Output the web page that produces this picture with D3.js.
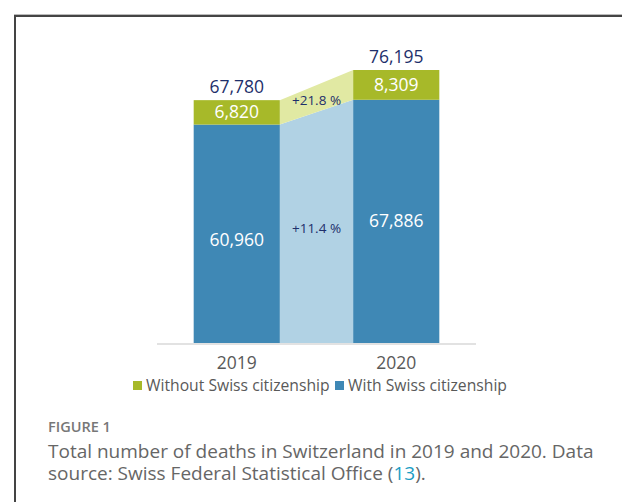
<!DOCTYPE html>
<html>
<head>
<meta charset="utf-8">
<script src="https://cdn.jsdelivr.net/npm/d3@7"></script>
<style>
  body { margin: 0; background: #fff; }
  svg { display: block; }
</style>
</head>
<body>
<svg id="chart" width="622" height="502"></svg>
<script>
const years = ["2019", "2020"];
const withSwiss = [60960, 67886];
const withoutSwiss = [6820, 8309];
const totals = [67780, 76195];
const changeLabels = ["+11.4 %", "+21.8 %"];
const seriesNames = ["Without Swiss citizenship", "With Swiss citizenship"];

const blue = "#3f88b5", green = "#a7b929";
const lightBlue = "#b1d2e4", lightGreen = "#e1e9a3";
const navy = "#1e2f6b";
const fmt = d3.format(",");

const svg = d3.select("#chart");

// figure frame
svg.append("path")
  .attr("d", "M15,505 V16 H625")
  .attr("fill", "none")
  .attr("stroke", "#444")
  .attr("stroke-width", 2);
svg.append("line")
  .attr("x1", 14).attr("x2", 622).attr("y1", 14.5).attr("y2", 14.5)
  .attr("stroke", "#bbb");

const x = d3.scaleBand()
  .domain(years)
  .range([157, 476])
  .paddingInner(0.46)
  .paddingOuter(0.23);

const y = d3.scaleLinear()
  .domain([0, 76195])
  .range([343, 70]);

const bw = x.bandwidth();
const x0 = x(years[0]) + bw, x1 = x(years[1]);

// connector areas
svg.append("path")
  .attr("d", `M${x0},${y(0)} L${x0},${y(withSwiss[0])} L${x1},${y(withSwiss[1])} L${x1},${y(0)} Z`)
  .attr("fill", lightBlue);
svg.append("path")
  .attr("d", `M${x0},${y(withSwiss[0])} L${x0},${y(totals[0])} L${x1},${y(totals[1])} L${x1},${y(withSwiss[1])} Z`)
  .attr("fill", lightGreen);

// axis line
svg.append("line")
  .attr("x1", 157).attr("x2", 476)
  .attr("y1", 344).attr("y2", 344)
  .attr("stroke", "#d9d9d9").attr("stroke-width", 1.5);

// bars
svg.selectAll(".blue").data(years).enter().append("rect")
  .attr("x", d => x(d)).attr("width", bw)
  .attr("y", (d, i) => y(withSwiss[i]))
  .attr("height", (d, i) => y(0) - y(withSwiss[i]))
  .attr("fill", blue);
svg.selectAll(".green").data(years).enter().append("rect")
  .attr("x", d => x(d)).attr("width", bw)
  .attr("y", (d, i) => y(totals[i]))
  .attr("height", (d, i) => y(withSwiss[i]) - y(totals[i]))
  .attr("fill", green);

const font = "'Open Sans', sans-serif";

// value labels
svg.selectAll(".tot").data(years).enter().append("text")
  .attr("x", d => x(d) + bw / 2)
  .attr("y", (d, i) => y(totals[i]) - 7)
  .attr("text-anchor", "middle")
  .attr("font-family", font).attr("font-size", 17.5)
  .attr("fill", navy)
  .text((d, i) => fmt(totals[i]));
svg.selectAll(".gl").data(years).enter().append("text")
  .attr("x", d => x(d) + bw / 2)
  .attr("y", (d, i) => (y(totals[i]) + y(withSwiss[i])) / 2 + 6)
  .attr("text-anchor", "middle")
  .attr("font-family", font).attr("font-size", 17.5)
  .attr("fill", "#fff")
  .text((d, i) => fmt(withoutSwiss[i]));
svg.selectAll(".bl").data(years).enter().append("text")
  .attr("x", d => x(d) + bw / 2)
  .attr("y", (d, i) => (y(0) + y(withSwiss[i])) / 2 + 6 + (i === 0 ? 6 : 0))
  .attr("text-anchor", "middle")
  .attr("font-family", font).attr("font-size", 17.5)
  .attr("fill", "#fff")
  .text((d, i) => fmt(withSwiss[i]));

// change labels
const cx = (x0 + x1) / 2;
svg.append("text")
  .attr("x", cx).attr("y", 233)
  .attr("text-anchor", "middle")
  .attr("font-family", font).attr("font-size", 13.5)
  .attr("fill", navy).text(changeLabels[0]);
svg.append("text")
  .attr("x", cx).attr("y", 105)
  .attr("text-anchor", "middle")
  .attr("font-family", font).attr("font-size", 13.5)
  .attr("fill", navy).text(changeLabels[1]);

// year labels
svg.selectAll(".yr").data(years).enter().append("text")
  .attr("x", d => x(d) + bw / 2)
  .attr("y", 369)
  .attr("text-anchor", "middle")
  .attr("font-family", font).attr("font-size", 17.5)
  .attr("fill", "#595959")
  .text(d => d);

// legend
const legend = [
  { name: seriesNames[0], color: green, x: 133 },
  { name: seriesNames[1], color: blue, x: 335 }
];
const lg = svg.selectAll(".lg").data(legend).enter().append("g")
  .attr("transform", d => `translate(${d.x},380)`);
lg.append("rect").attr("width", 9).attr("height", 9).attr("y", 1).attr("fill", d => d.color);
lg.append("text")
  .attr("x", 13).attr("y", 10.5)
  .attr("font-family", font).attr("font-size", 15.7)
  .attr("fill", "#595959")
  .text(d => d.name);

// caption
const capFont = "'Open Sans', sans-serif";
svg.append("text")
  .attr("x", 48).attr("y", 432)
  .attr("font-family", capFont).attr("font-size", 14.5).attr("font-weight", 600)
  .attr("fill", "#777").text("FIGURE 1");
svg.append("text")
  .attr("x", 48).attr("y", 458)
  .attr("font-family", capFont).attr("font-size", 19)
  .attr("fill", "#666").text("Total number of deaths in Switzerland in 2019 and 2020. Data");
const cap2 = svg.append("text")
  .attr("x", 48).attr("y", 480)
  .attr("font-family", capFont).attr("font-size", 19)
  .attr("fill", "#666");
cap2.append("tspan").text("source: Swiss Federal Statistical Office (");
cap2.append("tspan").attr("fill", "#1a9dc4").text("13");
cap2.append("tspan").text(").");
</script>
</body>
</html>
